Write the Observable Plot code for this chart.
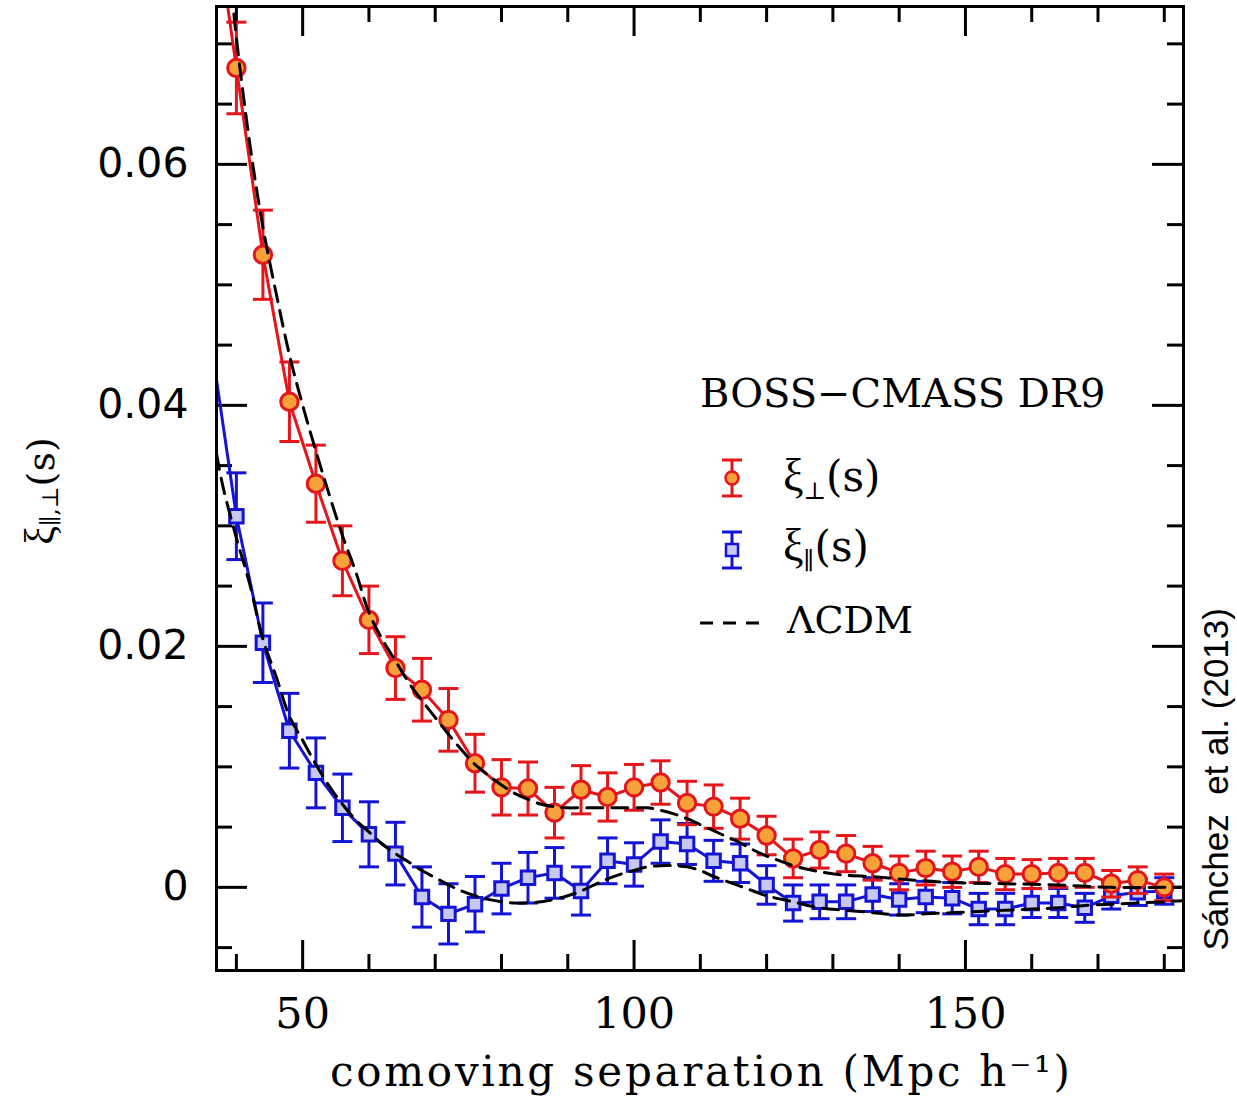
<!DOCTYPE html>
<html><head><meta charset="utf-8">
<script src="https://cdn.jsdelivr.net/npm/d3@7"></script>
<script src="https://cdn.jsdelivr.net/npm/@observablehq/plot@0.6"></script>
<style>body{margin:0;background:#fff;}</style>
</head><body><div id="chart"></div>
<script>
// ---------- data ----------
const s = [40,44,48,52,56,60,64,68,72,76,80,84,88,92,96,100,104,108,112,116,120,124,128,132,136,140,144,148,152,156,160,164,168,172,176,180];
const xiPerp = [0.0680,0.0525,0.0403,0.0335,0.0271,0.0222,0.0182,0.0164,0.0139,0.0103,0.0083,0.0082,0.0062,0.0081,0.0075,0.0083,0.0087,0.0070,0.0067,0.0057,0.0043,0.0024,0.0031,0.0028,0.0020,0.0012,0.0016,0.0013,0.0017,0.0011,0.0011,0.0012,0.0012,0.0003,0.0006,0.0000];
const errPerp = [0.0038,0.0037,0.0033,0.0032,0.0029,0.0028,0.0026,0.0026,0.0026,0.0024,0.0023,0.0022,0.0021,0.0020,0.0020,0.0019,0.0018,0.0018,0.0018,0.0017,0.0016,0.0016,0.0015,0.0015,0.0014,0.0014,0.0014,0.0013,0.0013,0.0013,0.0012,0.0012,0.0012,0.0011,0.0011,0.0011];
const xiPar = [0.0308,0.0203,0.0130,0.0095,0.0066,0.0044,0.0028,-0.0008,-0.0022,-0.0014,-0.0001,0.0008,0.0012,-0.0003,0.0022,0.0019,0.0038,0.0036,0.0022,0.0020,0.0002,-0.0013,-0.0012,-0.0012,-0.0006,-0.0010,-0.0008,-0.0009,-0.0018,-0.0018,-0.0013,-0.0013,-0.0017,-0.0007,-0.0004,-0.0003];
const errPar = [0.0036,0.0033,0.0031,0.0029,0.0028,0.0027,0.0026,0.0025,0.0025,0.0023,0.0021,0.0021,0.0021,0.0020,0.0019,0.0018,0.0018,0.0017,0.0017,0.0016,0.0016,0.0015,0.0014,0.0014,0.0014,0.0013,0.0013,0.0013,0.0013,0.0013,0.0012,0.0012,0.0012,0.0011,0.0011,0.0011];
// solid curves start just outside the left edge
const leadS = 36;
const perpLead = 0.0836;
const parLead = 0.0459;
// LCDM model curves
const lcdmPerpS = [37,38,39,40,42,44,46,48,50,52,54,56,58,60,62,64,66,68,70,72,74,76,78,80,82,84,86,88,90,92,96,100,102,104,106,108,110,112,114,116,118,120,122,124,128,132,136,140,148,156,164,172,180,183];
const lcdmPerp = [0.0890,0.0815,0.0760,0.0705,0.0618,0.0548,0.0493,0.0442,0.0400,0.0362,0.0326,0.0292,0.0262,0.0228,0.0206,0.0188,0.0170,0.0155,0.0141,0.0127,0.0114,0.0102,0.0093,0.0085,0.0078,0.0073,0.0069,0.0067,0.0066,0.0066,0.0066,0.0066,0.0066,0.0064,0.0061,0.0057,0.0052,0.0047,0.0042,0.0037,0.0031,0.0026,0.0022,0.0018,0.0013,0.0010,0.0009,0.0007,0.0004,0.0003,0.0002,0.0000,0.0000,0.0000];
const lcdmParS = [37,38,40,42,44,46,48,50,52,54,56,58,60,62,64,66,68,70,72,74,76,78,80,82,84,86,88,90,92,94,96,98,100,102,104,106,108,110,112,114,116,118,120,124,128,132,136,140,144,148,152,156,160,164,168,172,176,180,183];
const lcdmPar = [0.0360,0.0332,0.0290,0.0252,0.0206,0.0175,0.0142,0.0122,0.0102,0.0084,0.0069,0.0056,0.0046,0.0036,0.0028,0.0021,0.0014,0.0008,0.0002,-0.0003,-0.0007,-0.0010,-0.0012,-0.0013,-0.0013,-0.0012,-0.0010,-0.0007,-0.0003,0.0002,0.0007,0.0011,0.0014,0.0017,0.0018,0.0018,0.0017,0.0014,0.0009,0.0005,0.0001,-0.0003,-0.0007,-0.0012,-0.0017,-0.0019,-0.0021,-0.0023,-0.0022,-0.0021,-0.0020,-0.0019,-0.0018,-0.0017,-0.0015,-0.0014,-0.0013,-0.0012,-0.0011];
// axes
const xDomain = [37, 182.9];
const yDomain = [-0.0069, 0.0731];
const xTicksMajor = [50,100,150];
const xTicksMinor = [40,60,70,80,90,110,120,130,140,160,170,180];
const yTicksMajor = [0,0.02,0.04,0.06];
const yTicksMinor = [-0.005,0.005,0.01,0.015,0.025,0.03,0.035,0.045,0.05,0.055,0.065,0.07];
const yTickLabels = ["0","0.02","0.04","0.06"];
const xTitle = "comoving separation (Mpc h\u207B\u00B9)";
const credit = "Sánchez  et al. (2013)";
const legendTitle = "BOSS\u2212CMASS DR9";

// ---------- styles ----------
const RED = "#e4161b", ORANGE = "#f6a13a", BLUE = "#1414d4", LAV = "#c6c8ef";
const W = 1237, H = 1098, mL = 216, mR = 54, mT = 6, mB = 128;
const iW = W - mL - mR, iH = H - mT - mB;

const perp = s.map((d,i) => ({s:d, v:xiPerp[i], e:errPerp[i]}));
const par = s.map((d,i) => ({s:d, v:xiPar[i], e:errPar[i]}));
const perpLine = [{s:leadS, v:perpLead}, ...perp];
const parLine = [{s:leadS, v:parLead}, ...par];
const mPerp = lcdmPerpS.map((d,i)=>({s:d, v:lcdmPerp[i]}));
const mPar = lcdmParS.map((d,i)=>({s:d, v:lcdmPar[i]}));

const cap = {draw(ctx){ ctx.moveTo(-10,0); ctx.lineTo(10,0); }};

function errMarks(data, color, fill, symbol, r) {
  return [
    Plot.ruleX(data, {x:"s", y1:d=>d.v-d.e, y2:d=>d.v+d.e, stroke:color, strokeWidth:3}),
    Plot.dot(data, {x:"s", y:d=>d.v+d.e, symbol:cap, stroke:color, strokeWidth:3, fill:"none"}),
    Plot.dot(data, {x:"s", y:d=>d.v-d.e, symbol:cap, stroke:color, strokeWidth:3, fill:"none"}),
    Plot.dot(data, {x:"s", y:"v", symbol, r, fill, stroke:color, strokeWidth:3})
  ];
}

const plot = Plot.plot({
  width: W, height: H,
  marginLeft: mL, marginRight: mR, marginTop: mT, marginBottom: mB,
  x: {domain: xDomain, axis: null},
  y: {domain: yDomain, axis: null},
  style: {background: "white"},
  marks: [
    Plot.tickY(yTicksMajor, {y:d=>d, insetRight: iW-31, stroke:"black", strokeWidth:3}),
    Plot.tickY(yTicksMinor, {y:d=>d, insetRight: iW-16, stroke:"black", strokeWidth:3}),
    Plot.tickY(yTicksMajor, {y:d=>d, insetLeft: iW-31, stroke:"black", strokeWidth:3}),
    Plot.tickY(yTicksMinor, {y:d=>d, insetLeft: iW-16, stroke:"black", strokeWidth:3}),
    Plot.tickX(xTicksMajor, {x:d=>d, insetTop: iH-30, stroke:"black", strokeWidth:3}),
    Plot.tickX(xTicksMinor, {x:d=>d, insetTop: iH-16, stroke:"black", strokeWidth:3}),
    Plot.tickX(xTicksMajor, {x:d=>d, insetBottom: iH-30, stroke:"black", strokeWidth:3}),
    Plot.tickX(xTicksMinor, {x:d=>d, insetBottom: iH-16, stroke:"black", strokeWidth:3}),
    Plot.line(parLine, {x:"s", y:"v", stroke:BLUE, strokeWidth:3, clip:true}),
    ...errMarks(par, BLUE, LAV, "square", 7.6),
    Plot.line(perpLine, {x:"s", y:"v", stroke:RED, strokeWidth:3, clip:true}),
    ...errMarks(perp, RED, ORANGE, "circle", 8.7),
    Plot.line(mPar, {x:"s", y:"v", stroke:"black", strokeWidth:3, strokeDasharray:"16,9", curve:"catmull-rom", clip:true}),
    Plot.line(mPerp, {x:"s", y:"v", stroke:"black", strokeWidth:3, strokeDasharray:"16,9", curve:"catmull-rom", clip:true}),
    Plot.frame({stroke:"black", strokeWidth:3}),
    Plot.text(yTicksMajor, {y:d=>d, text:(d,i)=>yTickLabels[i], frameAnchor:"left", dx:-28, textAnchor:"end", fontSize:41, fontFamily:"DejaVu Sans"}),
    Plot.text(xTicksMajor, {x:d=>d, text:d=>String(d), frameAnchor:"bottom", dy:44, lineAnchor:"middle", fontSize:43, fontFamily:"DejaVu Serif"}),
    Plot.text([xTitle], {text:d=>d, frameAnchor:"bottom", dy:102, lineAnchor:"middle", fontSize:42, fontFamily:"DejaVu Serif"}),
    Plot.text([credit], {text:d=>d, frameAnchor:"bottom-right", dx:33, dy:-20, rotate:-90, textAnchor:"start", lineAnchor:"middle", fontSize:35, fontFamily:"Liberation Sans"})
  ]
});
document.getElementById("chart").appendChild(plot);

const svg = d3.select(plot);
svg.selectAll("text").filter(function(){ return this.textContent === xTitle; })
  .attr("textLength", 740).attr("lengthAdjust", "spacing");

// ---------- y title and legend ----------
const XI_FONT = "Liberation Serif";
const yt = svg.append("text").attr("transform","translate(44,491) rotate(-90)")
  .attr("text-anchor","middle").attr("dominant-baseline","middle")
  .style("font-family","DejaVu Serif").style("font-size","38px").attr("fill","black");
yt.append("tspan").style("font-family", XI_FONT).style("font-size","42px").text("\u03BE");
yt.append("tspan").attr("dy",8).style("font-size","23px").text("\u2225,\u22A5");
yt.append("tspan").attr("dy",-8).text("(s)");

const lg = svg.append("g").attr("font-family","DejaVu Serif").attr("fill","black").attr("text-anchor","start");
lg.append("text").attr("x",700).attr("y",407).attr("text-anchor","start").style("font-size","40px").text(legendTitle);
function legendMarker(cy, color, fill, square) {
  lg.append("line").attr("x1",732).attr("x2",732).attr("y1",cy-18).attr("y2",cy+18).attr("stroke",color).attr("stroke-width",3);
  lg.append("line").attr("x1",722).attr("x2",742).attr("y1",cy-18).attr("y2",cy-18).attr("stroke",color).attr("stroke-width",3);
  lg.append("line").attr("x1",722).attr("x2",742).attr("y1",cy+18).attr("y2",cy+18).attr("stroke",color).attr("stroke-width",3);
  if (square) lg.append("rect").attr("x",726).attr("y",cy-6).attr("width",12).attr("height",12).attr("fill",fill).attr("stroke",color).attr("stroke-width",2.5);
  else lg.append("circle").attr("cx",732).attr("cy",cy).attr("r",6.5).attr("fill",fill).attr("stroke",color).attr("stroke-width",2.5);
}
function legendLabel(y, sub) {
  const t = lg.append("text").attr("x",783).attr("y",y).attr("text-anchor","start").style("font-size","42px");
  t.append("tspan").style("font-family", XI_FONT).style("font-size","46px").text("\u03BE");
  t.append("tspan").attr("dy",8).style("font-size","24px").text(sub);
  t.append("tspan").attr("dy",-8).text("(s)");
}
legendMarker(478, RED, ORANGE, false);
legendLabel(491, "\u22A5");
legendMarker(550, BLUE, LAV, true);
legendLabel(561, "\u2225");
lg.append("line").attr("x1",700).attr("x2",765).attr("y1",623).attr("y2",623).attr("stroke","black").attr("stroke-width",3).attr("stroke-dasharray","13,10");
lg.append("text").attr("x",787).attr("y",633).attr("text-anchor","start").style("font-size","38px").text("\u039BCDM");
</script>
</body></html>
